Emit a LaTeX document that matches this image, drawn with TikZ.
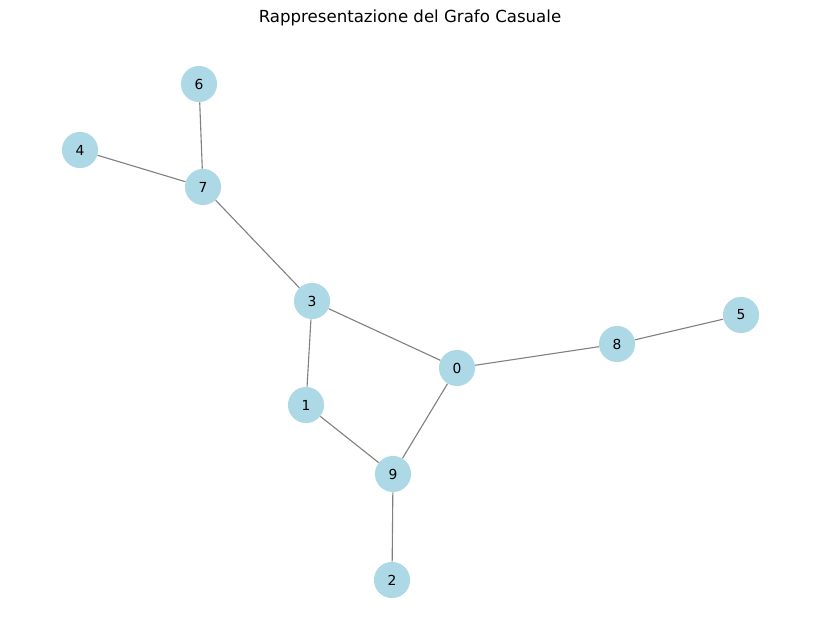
\documentclass[tikz,border=0pt]{standalone}
\usepackage{fontspec}
\setmainfont{DejaVu Sans}
\definecolor{nodeblue}{RGB}{173,216,230}

\begin{document}
\begin{tikzpicture}[x=0.72bp, y=-0.72bp, every node/.style={font=\small},
	vertex/.style={circle, fill=nodeblue, inner sep=0pt, minimum size=26bp, font=\fontsize{10}{12}\selectfont},
	link/.style={draw=gray, line width=0.8pt}]
	\useasboundingbox (0,0) rectangle (819,642);
	\node (title) at (410,18) {\fontsize{12}{14}\selectfont Rappresentazione del Grafo Casuale};
	\foreach \n/\x/\y in {6/199/84, 4/80/150, 7/203/187, 3/312/301, 8/617/344, 5/741/315, 0/457/368, 1/306/405, 9/393/474, 2/392/580} {
		\node[vertex] (v\n) at (\x,\y) {\n};
	}
	\foreach \a/\b in {6/7, 4/7, 7/3, 3/0, 3/1, 0/8, 8/5, 0/9, 1/9, 9/2} {
		\draw[link] (v\a) -- (v\b);
	}
\end{tikzpicture}
\end{document}
